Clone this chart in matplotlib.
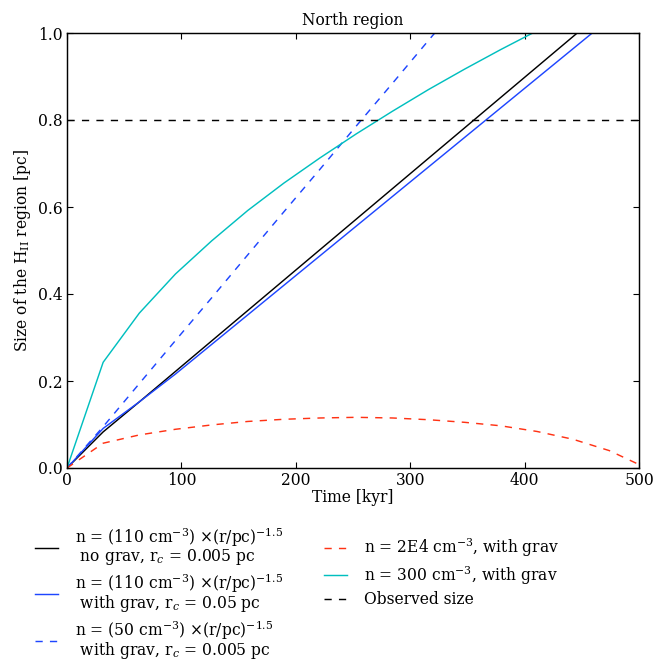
import numpy as np
import matplotlib
matplotlib.use("Agg")
import matplotlib.pyplot as plt

plt.rcParams['font.family'] = 'DejaVu Serif'
plt.rcParams['mathtext.fontset'] = 'dejavuserif'
plt.rcParams['font.size'] = 14

# output times (kyr), one every ~31.6 kyr
t = [0, 31.6, 63.2, 94.8, 126.4, 158.0, 189.6, 221.2, 252.8, 284.4, 316.0,
     347.6, 379.2, 410.8, 442.4, 474.0, 500.0]

# sizes of the HII region (pc)
r_nograv_110 = [0, 0.083, 0.152, 0.222, 0.292, 0.362, 0.432, 0.502, 0.572, 0.642,
                0.712, 0.782, 0.852, 0.922, 0.992, 1.062, 1.12]
r_grav_110 = [0, 0.091, 0.152, 0.216, 0.284, 0.352, 0.420, 0.488, 0.556, 0.624,
              0.692, 0.760, 0.828, 0.896, 0.964, 1.032, 1.09]
r_grav_50 = [0, 0.095, 0.194, 0.293, 0.391, 0.490, 0.589, 0.687, 0.786, 0.884,
             0.983, 1.081, 1.18, 1.28, 1.38, 1.47, 1.55]
r_2e4 = [0, 0.057, 0.076, 0.089, 0.099, 0.107, 0.112, 0.115, 0.1165, 0.115,
         0.111, 0.105, 0.097, 0.084, 0.066, 0.040, 0.008]
r_300 = [0, 0.243, 0.356, 0.446, 0.522, 0.592, 0.655, 0.713, 0.768, 0.820,
         0.870, 0.917, 0.962, 1.005, 1.05, 1.09, 1.12]
observed = 0.8

labels = [
    'n = (110 cm$^{-3}$) $\\times$(r/pc)$^{-1.5}$\n no grav, r$_c$ = 0.005 pc',
    'n = (110 cm$^{-3}$) $\\times$(r/pc)$^{-1.5}$\n with grav, r$_c$ = 0.05 pc',
    'n = (50 cm$^{-3}$) $\\times$(r/pc)$^{-1.5}$\n with grav, r$_c$ = 0.005 pc',
    'n = 2E4 cm$^{-3}$, with grav',
    'n = 300 cm$^{-3}$, with grav',
    'Observed size',
]

fig = plt.figure(figsize=(8.2, 8.25), dpi=80)
ax = fig.add_axes([67/656, 1-468/660, 572/656, 435/660])

lw = 1.3
dash = (5, 5)
ax.plot(t, r_nograv_110, color='k', lw=lw, label=labels[0])
ax.plot(t, r_grav_110, color='#1e46ff', lw=lw, label=labels[1])
ax.plot(t, r_grav_50, color='#1e46ff', lw=lw, dashes=dash, label=labels[2])
ax.plot(t, r_2e4, color='#ff3214', lw=lw, dashes=dash, label=labels[3])
ax.plot(t, r_300, color='#00bfbf', lw=lw, label=labels[4])
ax.axhline(observed, color='k', lw=lw, dashes=dash, label=labels[5])

ax.set_xlim(0, 500)
ax.set_ylim(0, 1.0)
ax.set_xticks([0, 100, 200, 300, 400, 500])
ax.set_yticks([0.0, 0.2, 0.4, 0.6, 0.8, 1.0])
ax.tick_params(direction='in', top=True, right=True, length=5, width=1, pad=4)
for s in ax.spines.values():
    s.set_linewidth(1.3)
ax.set_xlabel('Time [kyr]', labelpad=0)
ax.set_ylabel('Size of the H$_{\\rm II}$ region [pc]')
ax.set_title('North region', fontsize=14, pad=7)

leg = fig.legend(loc='upper left', bbox_to_anchor=(35/656, 1-526/660), ncol=2,
                 frameon=False, handlelength=1.47, handletextpad=1.1,
                 columnspacing=2.6, labelspacing=0.3, borderpad=0, borderaxespad=0)
for txt in leg.get_texts():
    txt.set_linespacing(0.85)

fig.savefig('out.png', dpi=80)
